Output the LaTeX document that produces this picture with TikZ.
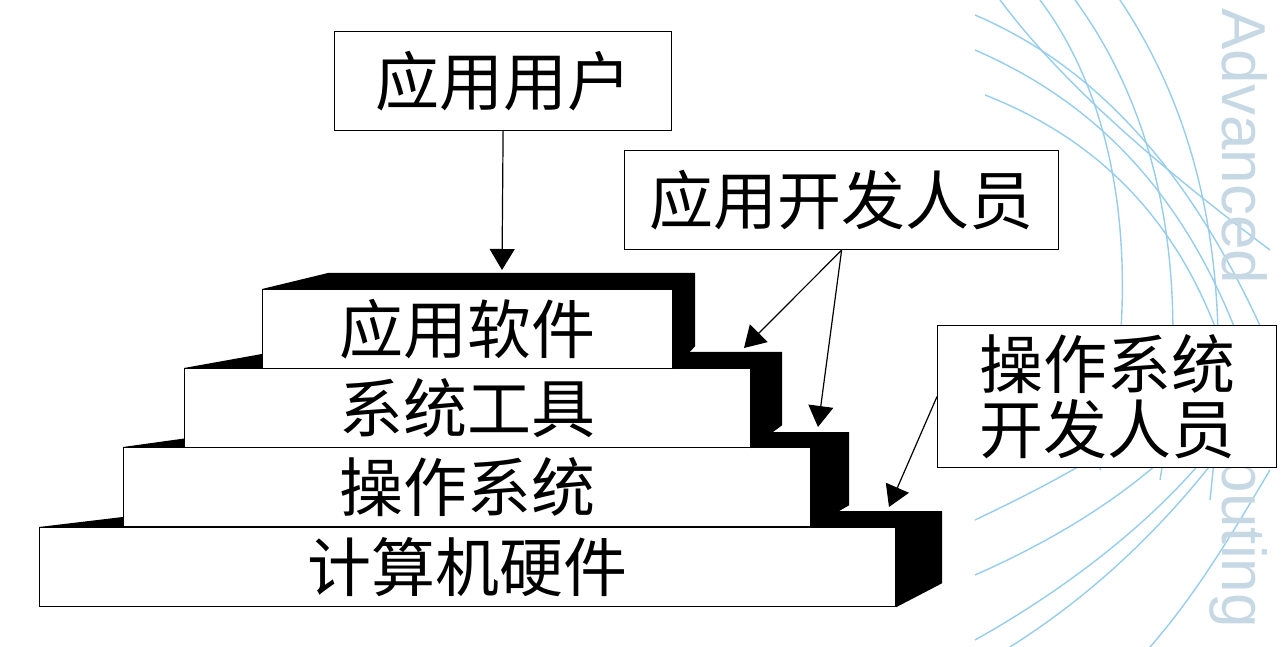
\documentclass[tikz,border=0pt]{standalone}
\usepackage{fontspec}
\newfontfamily\cjk{Noto Sans CJK SC}
\newfontfamily\wmfont{Liberation Sans}
\usetikzlibrary{arrows.meta,calc}
\definecolor{wavecol}{RGB}{150,205,235}
\definecolor{wmcol}{RGB}{198,216,228}
\tikzset{
	tier/.style={draw,fill=white,line width=0.6pt,inner sep=0pt,anchor=north west,minimum height=39.5pt,font=\cjk\fontsize{32}{33}\selectfont},
	role/.style={draw,fill=white,line width=0.6pt,inner sep=0pt,anchor=north west,align=center,font=\cjk\fontsize{32}{32.5}\selectfont},
	pointer/.style={-{Triangle[length=10.5pt,width=12.5pt]},line width=0.6pt},
	wave/.style={draw=wavecol,line width=0.7pt}
}
\begin{document}
\begin{tikzpicture}[x=0.5pt,y=-0.5pt]
		\useasboundingbox (0,0) rectangle (1282,647);
		%background
		\begin{scope}
		\clip (0,0) rectangle (1282,647);
		\draw[wave] (975,15) .. controls (1080,60) and (1180,150) .. (1262,330);
		\draw[wave] (975,50) .. controls (1090,100) and (1190,190) .. (1250,370);
		\draw[wave] (985,95) .. controls (1100,140) and (1200,230) .. (1240,410);
		\draw[wave] (1000,0) .. controls (1060,80) and (1150,160) .. (1270,250);
		\draw[wave] (1040,0) .. controls (1130,120) and (1140,300) .. (1100,470);
		\draw[wave] (1075,0) .. controls (1170,130) and (1190,300) .. (1160,480);
		\draw[wave] (1120,0) .. controls (1220,150) and (1230,320) .. (1210,500);
		\draw[wave] (975,520) .. controls (1080,470) and (1170,420) .. (1255,325);
		\draw[wave] (975,575) .. controls (1100,520) and (1190,450) .. (1250,360);
		\draw[wave] (975,640) .. controls (1100,570) and (1200,480) .. (1245,400);
		\draw[wave] (1010,647) .. controls (1100,590) and (1170,520) .. (1230,440);
		\draw[wave] (1150,647) .. controls (1200,590) and (1240,520) .. (1270,470);
		\node[rotate=-90,anchor=base west,text=wmcol,inner sep=0pt,font=\wmfont\fontsize{31}{31}\selectfont] (wm) at (1222,8) {Advanced\hspace{22pt}Computing};
		\end{scope}
		%hardware
		\node[tier,minimum width=428pt] (hw) at (39,527) {计算机硬件};
		\fill (hw.north west) -- ++(134,-16) -- ($(hw.north east)+(46,-16)$) -- ($(hw.south east)+(46,-24)$) -- (hw.south east) -- (hw.north east) -- cycle;
		%os
		\node[tier,minimum width=343.5pt] (os) at (123,447) {操作系统};
		\fill (os.north west) -- ++(108,-15) -- ($(os.north east)+(38,-15)$) -- ($(os.south east)+(38,-22)$) -- (os.south east) -- (os.north east) -- cycle;
		%tools
		\node[tier,minimum width=283pt] (tools) at (184,368) {系统工具};
		\fill (tools.north west) -- ++(89,-16) -- ($(tools.north east)+(31,-16)$) -- ($(tools.south east)+(31,-23)$) -- (tools.south east) -- (tools.north east) -- cycle;
		%apps
		\node[tier,minimum width=205pt] (apps) at (262,289) {应用软件};
		\fill (apps.north west) -- ++(66,-16) -- ($(apps.north east)+(22,-16)$) -- ($(apps.south east)+(22,-23)$) -- (apps.south east) -- (apps.north east) -- cycle;
		%roles
		\node[role,minimum width=168.5pt,minimum height=49.5pt] (user) at (334,31) {应用用户};
		\node[role,minimum width=217pt,minimum height=49.5pt] (dev) at (624,150) {应用开发人员};
		\node[role,minimum width=169.5pt,minimum height=71pt] (osdev) at (937,325) {操作系统\\开发人员};
		%arrows
		\coordinate (appsTop) at (502,270);
		\coordinate (toolsStep) at (744,348);
		\coordinate (osStep) at (818,427);
		\coordinate (hwStep) at (889,507);
		\draw[pointer] (user.south) -- (appsTop);
		\draw[pointer] (dev.south) -- (toolsStep);
		\draw[pointer] (dev.south) -- (osStep);
		\draw[pointer] (osdev.west) -- (hwStep);
	\end{tikzpicture}
\end{document}
